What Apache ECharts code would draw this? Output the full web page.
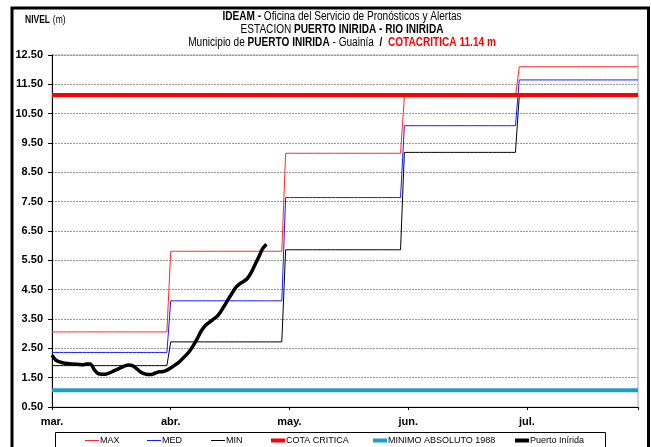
<!DOCTYPE html>
<html>
<head>
<meta charset="utf-8">
<script src="https://cdn.jsdelivr.net/npm/echarts@6/dist/echarts.min.js"></script>
<style>
html,body{margin:0;padding:0;background:#fff;}
#c{width:651px;height:447px;}
</style>
</head>
<body>
<div id="c"></div>
<script>
// ---- data ----
var monthLabels = ['mar.', 'abr.', 'may.', 'jun.', 'jul.'];
var monthLengths = [31, 30, 31, 30, 31];   // mar..jul (day counts)
var maxVals = [3.06, 5.81, 9.15, 11.08, 12.10];
var medVals = [2.36, 4.12, 7.64, 10.09, 11.65];
var minVals = [1.91, 2.72, 5.86, 9.18, 11.10];
var cotaCritica = 11.14;
var minimoAbsoluto = 1.07;
var seriesNames = ['MAX', 'MED', 'MIN', 'COTA CRITICA', 'MINIMO ABSOLUTO 1988', 'Puerto Inírida'];
// daily observed level, Puerto Inírida, from 1 March
var observed = [2.27, 2.10, 2.04, 2.00, 1.98, 1.97, 1.96, 1.95, 1.94, 1.97,
  1.97, 1.78, 1.64, 1.62, 1.62, 1.66, 1.72, 1.78, 1.84, 1.90,
  1.93, 1.91, 1.82, 1.70, 1.64, 1.61, 1.61, 1.66, 1.70, 1.71,
  1.76, 1.83, 1.92, 2.01, 2.14, 2.27, 2.42, 2.62, 2.85, 3.10,
  3.27, 3.38, 3.48, 3.58, 3.74, 3.95, 4.17, 4.38, 4.58, 4.70,
  4.78, 4.88, 5.08, 5.35, 5.62, 5.90, 6.05];

var FONT = '"Liberation Sans Narrow", "Arial Narrow", "Liberation Sans", Arial, sans-serif';

var totalDays = monthLengths.reduce(function (a, b) { return a + b; }, 0); // 153
function dailySteps(vals) {
  var out = [], d = 0;
  for (var m = 0; m < monthLengths.length; m++) {
    for (var k = 0; k < monthLengths[m]; k++) { out.push([d, vals[m]]); d++; }
  }
  out.push([d, vals[vals.length - 1]]);
  return out;
}
var obsData = observed.map(function (v, i) { return [i, v]; });
var tickStep = 31;

// legend layout (one legend per entry, placed inside one framed box)
var legendLeft = [85, 147, 211, 271, 373, 515];
var legendIconH = [1, 1, 1, 4, 4, 4];
var legendColors = ['#ff2a2a', '#1a1aff', '#000', '#ff0000', '#1e9ccc', '#000'];
var legends = seriesNames.map(function (n, i) {
  return {
    data: [n], left: legendLeft[i], top: 436, padding: 0, icon: 'rect',
    itemWidth: 14, itemHeight: legendIconH[i], itemGap: 2,
    textStyle: {fontFamily: FONT, fontSize: 9, color: '#000', padding: [0, 0, 0, -4]}
  };
});

var titleRich = {
  b: {fontFamily: FONT, fontSize: 12, fontWeight: 'bold', fill: '#000'},
  n: {fontFamily: FONT, fontSize: 12, fill: '#000'},
  r: {fontFamily: FONT, fontSize: 12, fontWeight: 'bold', fill: '#ff0000'}
};

var chart = echarts.init(document.getElementById('c'), null, {renderer: 'canvas'});
chart.setOption({
  backgroundColor: '#fff',
  animation: false,
  grid: {left: 52, right: 13, top: 55, bottom: 40, show: true, borderColor: '#aaaaaa', borderWidth: 1},
  xAxis: {
    type: 'value', min: 0, max: totalDays, interval: tickStep,
    axisLine: {lineStyle: {color: '#000', width: 1}},
    axisTick: {show: true, length: 3, lineStyle: {color: '#000'}},
    splitLine: {show: false},
    axisLabel: {
      margin: 9, color: '#000', fontFamily: FONT, fontSize: 11, fontWeight: 'bold',
      formatter: function (v) { var i = Math.round(v / tickStep); return monthLabels[i] || ''; }
    }
  },
  yAxis: {
    type: 'value', min: 0.5, max: 12.5, interval: 1,
    axisLine: {show: true, lineStyle: {color: '#000', width: 1}},
    axisTick: {show: true, length: 4, lineStyle: {color: '#000'}},
    splitLine: {show: true, lineStyle: {color: '#999', type: [2, 1], width: 1}},
    axisLabel: {
      margin: 9, color: '#000', fontFamily: FONT, fontSize: 11, fontWeight: 'bold',
      formatter: function (v) { return v.toFixed(2); }
    }
  },
  legend: legends,
  graphic: [
    {type: 'rect', shape: {x: 55.5, y: 432.5, width: 550, height: 30}, style: {fill: '#fff', stroke: '#000', lineWidth: 1}, z: -1, silent: true},
    {type: 'rect', shape: {x: 12, y: 8, width: 636.5, height: 470}, style: {fill: 'none', stroke: '#000', lineWidth: 3}, z: 100, silent: true},
    {type: 'text', x: 25, y: 20, scaleX: 0.85, style: {
      text: '{b|NIVEL} {n|(m)}', verticalAlign: 'middle', align: 'left',
      rich: {b: {fontFamily: FONT, fontSize: 10, fontWeight: 'bold', fill: '#000'}, n: {fontFamily: FONT, fontSize: 10, fill: '#000'}}
    }},
    {type: 'text', x: 342, y: 17, scaleX: 0.84, style: {
      text: '{b|IDEAM -} {n|Oficina del Servicio de Pronósticos y Alertas}', align: 'center', verticalAlign: 'middle', rich: titleRich
    }},
    {type: 'text', x: 342, y: 30, scaleX: 0.84, style: {
      text: '{n|ESTACION} {b|PUERTO INIRIDA - RIO INIRIDA}', align: 'center', verticalAlign: 'middle', rich: titleRich
    }},
    {type: 'text', x: 342, y: 43, scaleX: 0.84, style: {
      text: '{n|Municipio de} {b|PUERTO INIRIDA} {n|- Guainía}  {b|/}  {r|COTACRITICA ' + cotaCritica.toFixed(2) + ' m}', align: 'center', verticalAlign: 'middle', rich: titleRich
    }}
  ],
  series: [
    {name: seriesNames[0], type: 'line', data: dailySteps(maxVals), symbol: 'none', lineStyle: {color: legendColors[0], width: 1}, itemStyle: {color: legendColors[0]}},
    {name: seriesNames[1], type: 'line', data: dailySteps(medVals), symbol: 'none', lineStyle: {color: legendColors[1], width: 1}, itemStyle: {color: legendColors[1]}},
    {name: seriesNames[2], type: 'line', data: dailySteps(minVals), symbol: 'none', lineStyle: {color: legendColors[2], width: 1}, itemStyle: {color: legendColors[2]}},
    {name: seriesNames[3], type: 'line', data: [[0, cotaCritica], [totalDays, cotaCritica]], symbol: 'none', lineStyle: {color: legendColors[3], width: 4}, itemStyle: {color: legendColors[3]}},
    {name: seriesNames[4], type: 'line', data: [[0, minimoAbsoluto], [totalDays, minimoAbsoluto]], symbol: 'none', lineStyle: {color: legendColors[4], width: 4}, itemStyle: {color: legendColors[4]}},
    {name: seriesNames[5], type: 'line', data: obsData, symbol: 'none', smooth: 0.3, lineStyle: {color: legendColors[5], width: 3.5}, itemStyle: {color: legendColors[5]}}
  ]
});
</script>
</body>
</html>
